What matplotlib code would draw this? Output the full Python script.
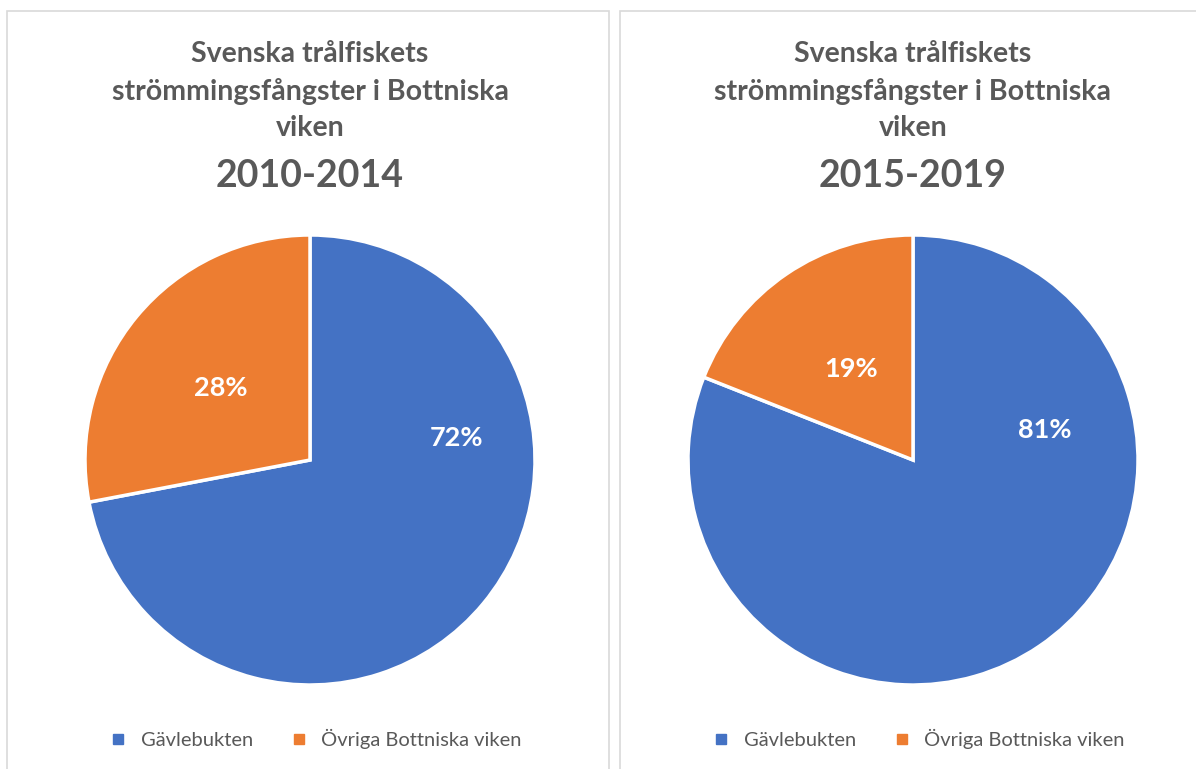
import numpy as np
import matplotlib.pyplot as plt
from matplotlib.patches import Rectangle
from matplotlib.lines import Line2D

categories = ['Gävlebukten', 'Övriga Bottniska viken']
share_2010_2014 = [72, 28]
share_2015_2019 = [81, 19]
periods = ['2010-2014', '2015-2019']
title_text = 'Svenska trålfiskets\nströmmingsfångster i Bottniska\nviken'

colors = ['#4472C4', '#ED7D31']
grey = '#595959'
font = 'Lato'

W, H = 1196, 769
fig = plt.figure(figsize=(W / 100, H / 100), dpi=100)

# panel frames (pixel coords from top-left)
for x0, x1 in [(7, 609), (620, 1210)]:
    fig.patches.append(Rectangle((x0 / W, -0.05), (x1 - x0) / W, 1.05 - 11 / H,
                                 transform=fig.transFigure, fill=False,
                                 edgecolor='#D9D9D9', linewidth=1.2))

# label placement (angle in degrees, distance as fraction of radius) per pie
label_pos = [[(8.5, 0.66), (141.4, 0.51)],
             [(12.8, 0.60), (124.4, 0.49)]]

centers = [310, 913]
r = 225
for i, (cx, vals) in enumerate(zip(centers, [share_2010_2014, share_2015_2019])):
    ax = fig.add_axes([(cx - r) / W, (H - 460 - r) / H, 2 * r / W, 2 * r / H])
    wedges, texts = ax.pie(vals, colors=colors, startangle=90, counterclock=False,
                           wedgeprops=dict(edgecolor='white', linewidth=2.5))
    ax.set_xlim(-1, 1)
    ax.set_ylim(-1, 1)
    for v, (ang, d) in zip(vals, label_pos[i]):
        ax.text(d * np.cos(np.radians(ang)), d * np.sin(np.radians(ang)), f'{v}%',
                ha='center', va='center', color='white', fontsize=19.5,
                fontweight='bold', family=font)

    fig.text(cx / W, 1 - 91 / H, title_text, ha='center', va='center',
             fontsize=20.5, fontweight='bold', color=grey, family=font,
             linespacing=1.5)
    fig.text(cx / W, 1 - 176 / H, periods[i], ha='center', va='center',
             fontsize=27, fontweight='bold', color=grey, family=font)

    handles = [Line2D([], [], marker='s', linestyle='none', markersize=7,
                      markerfacecolor=c, markeredgecolor=c) for c in colors]
    fig.legend(handles, categories, loc='center', bbox_to_anchor=(cx / W, 1 - 739 / H),
               ncol=2, frameon=False, handletextpad=0.1, columnspacing=1.3,
               prop=dict(family=font, size=14.5), labelcolor=grey)

fig.savefig('out.png', dpi=100)
